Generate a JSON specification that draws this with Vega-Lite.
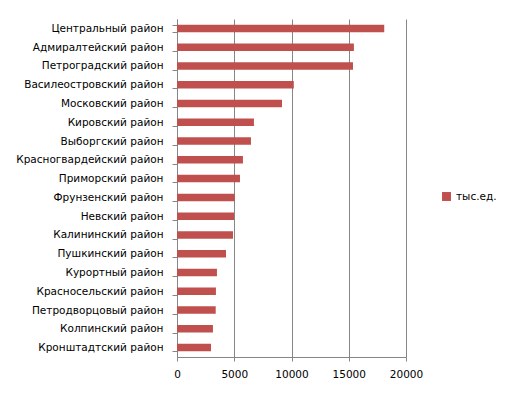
{
  "$schema": "https://vega.github.io/schema/vega-lite/v6.json",
  "autosize": "none",
  "width": 229,
  "height": 338,
  "padding": {"left": 177, "top": 19, "right": 107, "bottom": 37},
  "background": "white",
  "data": {"values": [
    {"район": "Центральный район", "значение": 18100},
    {"район": "Адмиралтейский район", "значение": 15450},
    {"район": "Петроградский район", "значение": 15370},
    {"район": "Василеостровский район", "значение": 10200},
    {"район": "Московский район", "значение": 9170},
    {"район": "Кировский район", "значение": 6720},
    {"район": "Выборгский район", "значение": 6460},
    {"район": "Красногвардейский район", "значение": 5760},
    {"район": "Приморский район", "значение": 5500},
    {"район": "Фрунзенский район", "значение": 5040},
    {"район": "Невский район", "значение": 4980},
    {"район": "Калининский район", "значение": 4890},
    {"район": "Пушкинский район", "значение": 4280},
    {"район": "Курортный район", "значение": 3490},
    {"район": "Красносельский район", "значение": 3400},
    {"район": "Петродворцовый район", "значение": 3380},
    {"район": "Колпинский район", "значение": 3140},
    {"район": "Кронштадтский район", "значение": 2970}
  ]},
  "mark": {"type": "bar"},
  "encoding": {
    "y": {
      "field": "район", "type": "nominal", "sort": "-x",
      "scale": {"paddingInner": 0.6, "paddingOuter": 0.3},
      "axis": {
        "title": null, "tickBand": "extent", "tickSize": 5, "tickColor": "#868686",
        "domainColor": "#868686", "labelPadding": 9, "labelFontSize": 10.5,
        "labelFont": "DejaVu Sans", "labelColor": "#000000", "grid": false, "labelLimit": 200
      }
    },
    "x": {
      "field": "значение", "type": "quantitative",
      "scale": {"domain": [0, 20000], "nice": false},
      "axis": {
        "title": null, "values": [0, 5000, 10000, 15000, 20000], "grid": true,
        "gridColor": "#868686", "gridOpacity": 1, "tickColor": "#868686", "tickSize": 4,
        "domainColor": "#868686", "labelFontSize": 10.5, "labelFont": "DejaVu Sans",
        "labelColor": "#000000", "labelPadding": 8, "format": "d", "labelFlush": false
      }
    },
    "color": {
      "datum": "тыс.ед.",
      "scale": {"range": ["#C0504D"]},
      "legend": {
        "title": null, "orient": "none", "legendX": 264, "legendY": 172,
        "symbolType": "square", "symbolSize": 80, "symbolOpacity": 1,
        "labelFontSize": 10.5, "labelFont": "DejaVu Sans", "labelColor": "#000000"
      }
    }
  },
  "config": {"view": {"stroke": null}}
}
